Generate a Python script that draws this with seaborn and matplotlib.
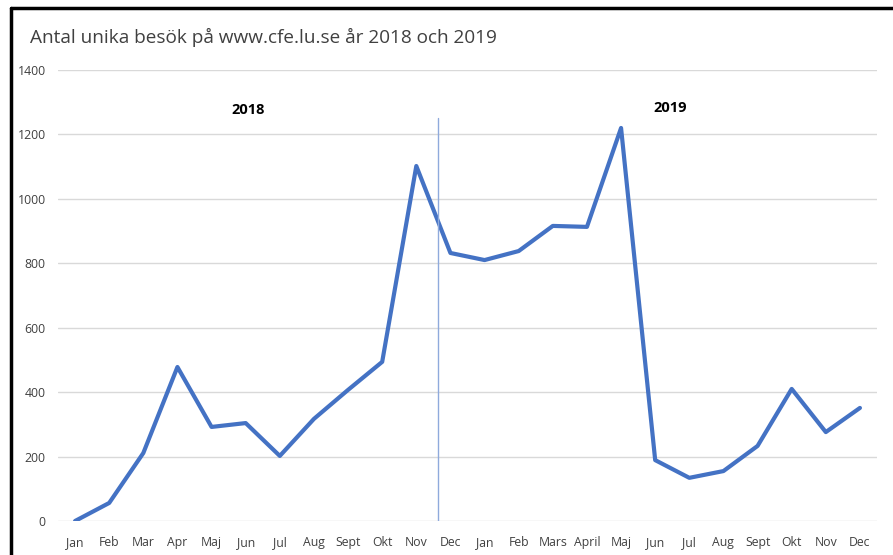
import matplotlib
matplotlib.use("Agg")
import matplotlib.pyplot as plt
import seaborn as sns
import pandas as pd
from matplotlib.lines import Line2D

# data
months = ["Jan", "Feb", "Mar", "Apr", "Maj", "Jun", "Jul", "Aug", "Sept", "Okt", "Nov", "Dec",
          "Jan", "Feb", "Mars", "April", "Maj", "Jun", "Jul", "Aug", "Sept", "Okt", "Nov", "Dec"]
visits = [0, 56, 211, 478, 292, 304, 202, 317, 407, 494, 1102, 832,
          810, 838, 916, 913, 1220, 189, 134, 155, 233, 410, 276, 351]
year_labels = ["2018", "2019"]

df = pd.DataFrame({"pos": range(len(months)), "month": months, "visits": visits})

sns.set_theme(style="white")
plt.rcParams["font.family"] = ["Open Sans", "DejaVu Sans"]

fig = plt.figure(figsize=(8.93, 5.55), dpi=100)
ax = fig.add_axes([58 / 893, 1 - 521 / 555, (877 - 58) / 893, (521 - 70) / 555])

sns.lineplot(data=df, x="pos", y="visits", ax=ax, color="#4472C4", linewidth=3.0)

ax.set_xlim(-0.5, len(months) - 0.5)
ax.set_ylim(0, 1400)
ax.set_yticks(range(0, 1401, 200))
ax.set_xticks(range(len(months)))
ax.set_xticklabels(months)
ax.tick_params(axis="both", labelsize=8.8, colors="#404040", length=0)
ax.tick_params(axis="x", pad=11)
ax.tick_params(axis="y", pad=9)
ax.yaxis.grid(True, color="#D9D9D9", linewidth=1)
ax.set_axisbelow(True)
for s in ax.spines.values():
    s.set_visible(False)
ax.set_xlabel("")
ax.set_ylabel("")

# year divider and labels
ax.axvline(10.64, ymin=0, ymax=1251 / 1400, color="#8FAADC", linewidth=1)
ax.text(5.07, 1276, year_labels[0], ha="center", va="center", fontsize=10.5,
        fontweight="bold", color="black")
ax.text(17.45, 1282, year_labels[1], ha="center", va="center", fontsize=10.5,
        fontweight="bold", color="black")

fig.text(30 / 893, 1 - 37 / 555, "Antal unika besök på www.cfe.lu.se år 2018 och 2019",
         ha="left", va="center", fontsize=13.7, color="#404040")

# black frame of the screenshot
fig.add_artist(Line2D([11 / 893, 11 / 893], [0, 1 - 8 / 555], transform=fig.transFigure,
                      color="black", linewidth=2.5))
fig.add_artist(Line2D([11 / 893, 1], [1 - 8 / 555, 1 - 8 / 555], transform=fig.transFigure,
                      color="black", linewidth=2.5))

fig.savefig("out.png", dpi=100)
